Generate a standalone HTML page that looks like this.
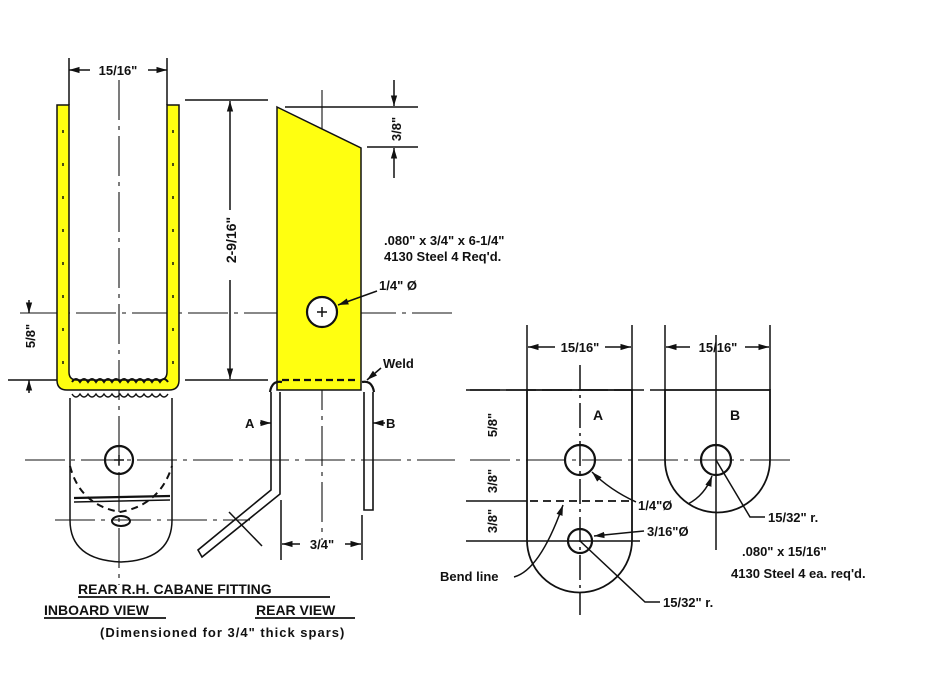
<!DOCTYPE html>
<html><head><meta charset="utf-8"><style>
html,body{margin:0;padding:0;background:#fff}
svg{display:block}
text{font-family:"Liberation Sans",sans-serif;font-weight:bold;fill:#111}
</style></head><body>
<svg width="949" height="686" viewBox="0 0 949 686" xmlns="http://www.w3.org/2000/svg">
<defs>
<marker id="ar" viewBox="0 0 10 10" refX="10" refY="5" markerWidth="7" markerHeight="7" orient="auto-start-reverse"><path d="M0,2 L10,5 L0,8 z" fill="#111"/></marker>
</defs>
<g stroke="#111" fill="none" stroke-width="1.5">
<g stroke-dasharray="40,6,4,6" stroke-width="1.1">
<line x1="20" y1="313" x2="455" y2="313"/>
<line x1="25" y1="460" x2="455" y2="460"/>
<line x1="470" y1="460" x2="790" y2="460"/>
<line x1="55" y1="520" x2="250" y2="520"/>
<line x1="119" y1="80" x2="119" y2="585"/>
<line x1="322" y1="90" x2="322" y2="540"/>
</g>
<line x1="69" y1="58" x2="69" y2="105"/><line x1="167" y1="58" x2="167" y2="105"/>
<line x1="90" y1="70" x2="69" y2="70" marker-end="url(#ar)"/><line x1="148" y1="70" x2="167" y2="70" marker-end="url(#ar)"/>
<line x1="185" y1="100" x2="268" y2="100"/><line x1="185" y1="380" x2="268" y2="380"/>
<line x1="230" y1="210" x2="230" y2="101" marker-end="url(#ar)"/><line x1="230" y1="280" x2="230" y2="379" marker-end="url(#ar)"/>
<line x1="8" y1="380" x2="60" y2="380"/>
<line x1="29" y1="300" x2="29" y2="313" marker-end="url(#ar)"/><line x1="29" y1="393" x2="29" y2="380" marker-end="url(#ar)"/>
<path d="M57,105 H69 V372 Q69,380 77,380 H159 Q167,380 167,372 V105 H179 V380 Q179,390 169,390 H67 Q57,390 57,380 Z" fill="#ffff10"/>
<g stroke-dasharray="3,30" stroke-width="1.5"><line x1="63" y1="130" x2="63" y2="370"/><line x1="173" y1="130" x2="173" y2="370"/></g>
<path d="M72,382 q4,-6 8,0 q4,-6 8,0 q4,-6 8,0 q4,-6 8,0 q4,-6 8,0 q4,-6 8,0 q4,-6 8,0 q4,-6 8,0 q4,-6 8,0 q4,-6 8,0 q4,-6 8,0 q4,-6 8,0" stroke-width="2"/>
<path d="M72,394 q4,6 8,0 q4,6 8,0 q4,6 8,0 q4,6 8,0 q4,6 8,0 q4,6 8,0 q4,6 8,0 q4,6 8,0 q4,6 8,0 q4,6 8,0 q4,6 8,0 q4,6 8,0" stroke-width="1.4"/>
<path d="M70,398 V520 Q70,560 121,562 Q172,560 172,520 V398"/>
<path d="M70,466 Q80,505 120,512 Q160,505 172,466" stroke-dasharray="7,5" stroke-width="2"/>
<line x1="74" y1="498" x2="170" y2="496" stroke-width="2.2"/><line x1="74" y1="502" x2="170" y2="500"/>
<circle cx="119" cy="460" r="14" stroke-width="2.2"/>
<line x1="114" y1="460" x2="124" y2="460"/><line x1="119" y1="455" x2="119" y2="465"/>
<ellipse cx="121" cy="521" rx="9" ry="5" stroke-width="2"/>
<path d="M277,107 L361,148 V390 H277 Z" fill="#ffff10"/>
<line x1="282" y1="380" x2="357" y2="380" stroke-dasharray="7,4" stroke-width="2.2"/>
<circle cx="322" cy="312" r="15" fill="#fff" stroke-width="2.2"/>
<line x1="317" y1="312" x2="327" y2="312"/><line x1="322" y1="307" x2="322" y2="317"/>
<path d="M271,392 V490 L198,550 L202,557 L280,494 V392" stroke-width="1.6"/>
<path d="M364,392 V510 H373 V392" stroke-width="1.6"/>
<path d="M270,392 q2,-12 12,-10 M362,382 q10,-2 12,10" stroke-width="2.2"/>
<line x1="229" y1="512" x2="262" y2="546"/>
<line x1="285" y1="107" x2="418" y2="107"/><line x1="367" y1="147" x2="418" y2="147"/>
<line x1="394" y1="80" x2="394" y2="106" marker-end="url(#ar)"/><line x1="394" y1="178" x2="394" y2="148" marker-end="url(#ar)"/>
<line x1="281" y1="500" x2="281" y2="560"/><line x1="362" y1="515" x2="362" y2="560"/>
<line x1="300" y1="544" x2="282" y2="544" marker-end="url(#ar)"/><line x1="345" y1="544" x2="361" y2="544" marker-end="url(#ar)"/>
<line x1="377" y1="291" x2="338" y2="305" marker-end="url(#ar)"/>
<line x1="381" y1="368" x2="367" y2="380" marker-end="url(#ar)"/>
<line x1="260" y1="423" x2="271" y2="423" marker-end="url(#ar)"/>
<line x1="385" y1="423" x2="373" y2="423" marker-end="url(#ar)"/>
<line x1="78" y1="597" x2="330" y2="597" stroke-width="1.8"/>
<line x1="44" y1="618" x2="166" y2="618" stroke-width="1.8"/>
<line x1="255" y1="618" x2="355" y2="618" stroke-width="1.8"/>
<path d="M527,390 H632 V540 A52.5,52.5 0 0 1 527,540 Z" stroke-width="1.8"/>
<line x1="580" y1="365" x2="580" y2="615" stroke-dasharray="25,5,3,5"/>
<line x1="530" y1="501" x2="630" y2="501" stroke-dasharray="8,5" stroke-width="1.8"/>
<circle cx="580" cy="460" r="15" stroke-width="2.2"/>
<circle cx="580" cy="541" r="12" stroke-width="2.2"/>
<line x1="466" y1="390" x2="527" y2="390"/><line x1="466" y1="501" x2="527" y2="501"/><line x1="466" y1="541" x2="640" y2="541"/>
<line x1="470" y1="390" x2="665" y2="390" stroke-dasharray="30,6"/>
<line x1="527" y1="325" x2="527" y2="390"/><line x1="632" y1="325" x2="632" y2="390"/>
<line x1="555" y1="347" x2="528" y2="347" marker-end="url(#ar)"/><line x1="605" y1="347" x2="631" y2="347" marker-end="url(#ar)"/>
<path d="M665,390 H770 V460 A52.5,52.5 0 0 1 665,460 Z" stroke-width="1.8"/>
<line x1="716" y1="335" x2="716" y2="550"/>
<circle cx="716" cy="460" r="15" stroke-width="2.2"/>
<line x1="665" y1="325" x2="665" y2="390"/><line x1="770" y1="325" x2="770" y2="390"/>
<line x1="690" y1="347" x2="666" y2="347" marker-end="url(#ar)"/><line x1="745" y1="347" x2="769" y2="347" marker-end="url(#ar)"/>
<path d="M636,502 Q610,490 592,472" marker-end="url(#ar)"/>
<path d="M688,504 Q705,495 712,476" marker-end="url(#ar)"/>
<path d="M644,531 L594,536" marker-end="url(#ar)"/>
<path d="M765,517 H750 L716,460"/><path d="M660,602 H645 L580,541"/>
<path d="M514,577 Q540,570 563,505" marker-end="url(#ar)"/>
</g>
<text x="118" y="75" font-size="13" text-anchor="middle">15/16"</text>
<text transform="translate(236,240) rotate(-90)" font-size="14" text-anchor="middle">2-9/16"</text>
<text transform="translate(35,336) rotate(-90)" font-size="13" text-anchor="middle">5/8"</text>
<text transform="translate(401,129) rotate(-90)" font-size="13" text-anchor="middle">3/8"</text>
<text x="384" y="245" font-size="13">.080" x 3/4" x 6-1/4"</text>
<text x="384" y="261" font-size="13">4130 Steel   4 Req'd.</text>
<text x="379" y="290" font-size="13">1/4" Ø</text>
<text x="383" y="368" font-size="13">Weld</text>
<text x="245" y="428" font-size="13">A</text>
<text x="386" y="428" font-size="13">B</text>
<text x="322" y="549" font-size="13" text-anchor="middle">3/4"</text>
<text x="78" y="594" font-size="14">REAR  R.H. CABANE FITTING</text>
<text x="44" y="615" font-size="14">INBOARD VIEW</text>
<text x="256" y="615" font-size="14">REAR VIEW</text>
<text x="100" y="637" font-size="13" letter-spacing="1">(Dimensioned  for  3/4" thick spars)</text>
<text x="580" y="352" font-size="13" text-anchor="middle">15/16"</text>
<text x="718" y="352" font-size="13" text-anchor="middle">15/16"</text>
<text x="598" y="420" font-size="14" text-anchor="middle">A</text>
<text x="735" y="420" font-size="14" text-anchor="middle">B</text>
<text transform="translate(497,425) rotate(-90)" font-size="13" text-anchor="middle">5/8"</text>
<text transform="translate(497,481) rotate(-90)" font-size="13" text-anchor="middle">3/8"</text>
<text transform="translate(497,521) rotate(-90)" font-size="13" text-anchor="middle">3/8"</text>
<text x="638" y="510" font-size="13">1/4"Ø</text>
<text x="647" y="536" font-size="13">3/16"Ø</text>
<text x="768" y="522" font-size="13">15/32" r.</text>
<text x="663" y="607" font-size="13">15/32" r.</text>
<text x="742" y="556" font-size="13">.080" x 15/16"</text>
<text x="731" y="578" font-size="13">4130 Steel  4 ea. req'd.</text>
<text x="440" y="581" font-size="13">Bend line</text>
</svg>
</body></html>
